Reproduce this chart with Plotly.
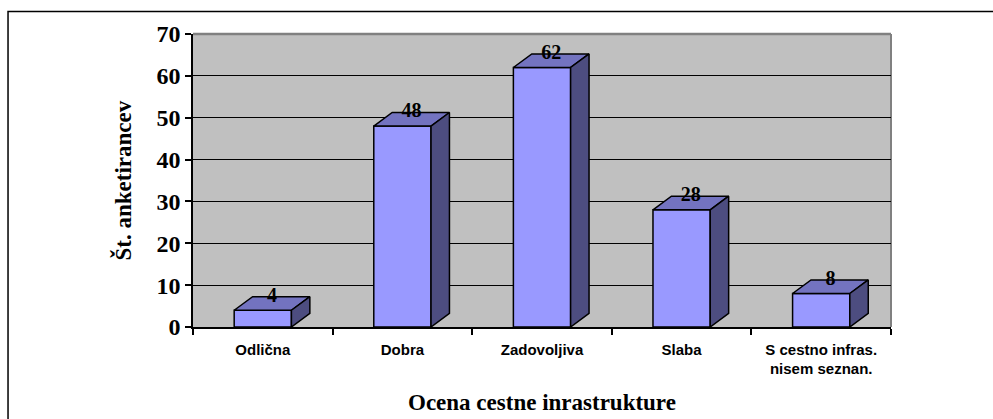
import plotly.graph_objects as go

categories = ["Odlična", "Dobra", "Zadovoljiva", "Slaba", "S cestno infras.<br>nisem seznan."]
values = [4, 48, 62, 28, 8]
y_ticks = [0, 10, 20, 30, 40, 50, 60, 70]
x_title = "Ocena cestne inrastrukture"
y_title = "Št. anketirancev"

# 3D look geometry (axis units)
BAR_W = 0.41
DX = 0.132
DY = 3.25

FRONT = "#9999FF"
TOP = "#7373C0"
SIDE = "#4D4D80"
EDGE = "black"

centers = [i + 0.5 for i in range(len(categories))]

fig = go.Figure()

fig.add_trace(go.Bar(
    x=centers, y=values, width=BAR_W,
    marker=dict(color=FRONT, line=dict(color=EDGE, width=1.5)),
    hoverinfo="skip", showlegend=False,
))

for c, v in zip(centers, values):
    x0 = c - BAR_W / 2
    x1 = c + BAR_W / 2
    # top face
    fig.add_trace(go.Scatter(
        x=[x0, x1, x1 + DX, x0 + DX, x0],
        y=[v, v, v + DY, v + DY, v],
        fill="toself", fillcolor=TOP, mode="lines",
        line=dict(color=EDGE, width=1.5), hoverinfo="skip", showlegend=False,
    ))
    # side face
    fig.add_trace(go.Scatter(
        x=[x1, x1 + DX, x1 + DX, x1, x1],
        y=[0, DY, v + DY, v, 0],
        fill="toself", fillcolor=SIDE, mode="lines",
        line=dict(color=EDGE, width=1.5), hoverinfo="skip", showlegend=False,
    ))

fig.add_trace(go.Scatter(
    x=[c + DX / 2 for c in centers],
    y=[v + DY for v in values],
    text=[str(v) for v in values],
    mode="text", textposition="middle center",
    textfont=dict(family="Liberation Serif", size=20, color="black", weight="bold"),
    hoverinfo="skip", showlegend=False,
))

fig.update_layout(
    width=993, height=419,
    margin=dict(l=193, r=102, t=34, b=92),
    paper_bgcolor="white",
    plot_bgcolor="#C0C0C0",
    showlegend=False,
    xaxis=dict(
        range=[0, len(categories)],
        tickvals=centers, ticktext=categories,
        ticks="outside", ticklen=8, tickcolor="rgba(0,0,0,0)",
        minor=dict(tickvals=list(range(len(categories) + 1)), ticks="outside",
                   ticklen=6, tickwidth=1.5, tickcolor="black", showgrid=False),
        showgrid=False, zeroline=False,
        showline=True, linecolor="black", linewidth=1.5,
        tickfont=dict(family="Liberation Sans", size=15, color="black", weight="bold"),
        fixedrange=True,
    ),
    yaxis=dict(
        range=[0, 70], tickvals=y_ticks,
        ticks="outside", ticklen=6, tickwidth=1.5, tickcolor="black",
        showgrid=True, gridcolor="black", gridwidth=1.3,
        zeroline=False, showline=True, linecolor="black", linewidth=1.5,
        tickfont=dict(family="Liberation Serif", size=24, color="black", weight="bold"),
        fixedrange=True,
    ),
    shapes=[
        dict(type="line", xref="paper", yref="paper", x0=0, x1=1, y0=1, y1=1,
             line=dict(color="#808080", width=2.5), layer="between"),
        dict(type="line", xref="paper", yref="paper", x0=1, x1=1, y0=0, y1=1,
             line=dict(color="#808080", width=2), layer="between"),
        dict(type="rect", xref="paper", yref="paper",
             x0=-0.265, x1=1.5, y0=-0.6, y1=1.0766,
             line=dict(color="black", width=1.5), layer="above"),
    ],
    annotations=[
        dict(text=x_title, xref="paper", yref="paper", x=0.5, y=-0.258,
             xanchor="center", yanchor="middle", showarrow=False,
             font=dict(family="Liberation Serif", size=23, color="black", weight="bold")),
        dict(text=y_title, xref="paper", yref="paper", x=-0.1017, y=0.5,
             xanchor="center", yanchor="middle", showarrow=False, textangle=-90,
             font=dict(family="Liberation Serif", size=23, color="black", weight="bold")),
    ],
)

fig.write_html(
    "out.html",
    config={"displayModeBar": False},
    post_script="document.body.style.margin='0';document.body.style.padding='0';document.body.style.overflow='hidden';",
)
